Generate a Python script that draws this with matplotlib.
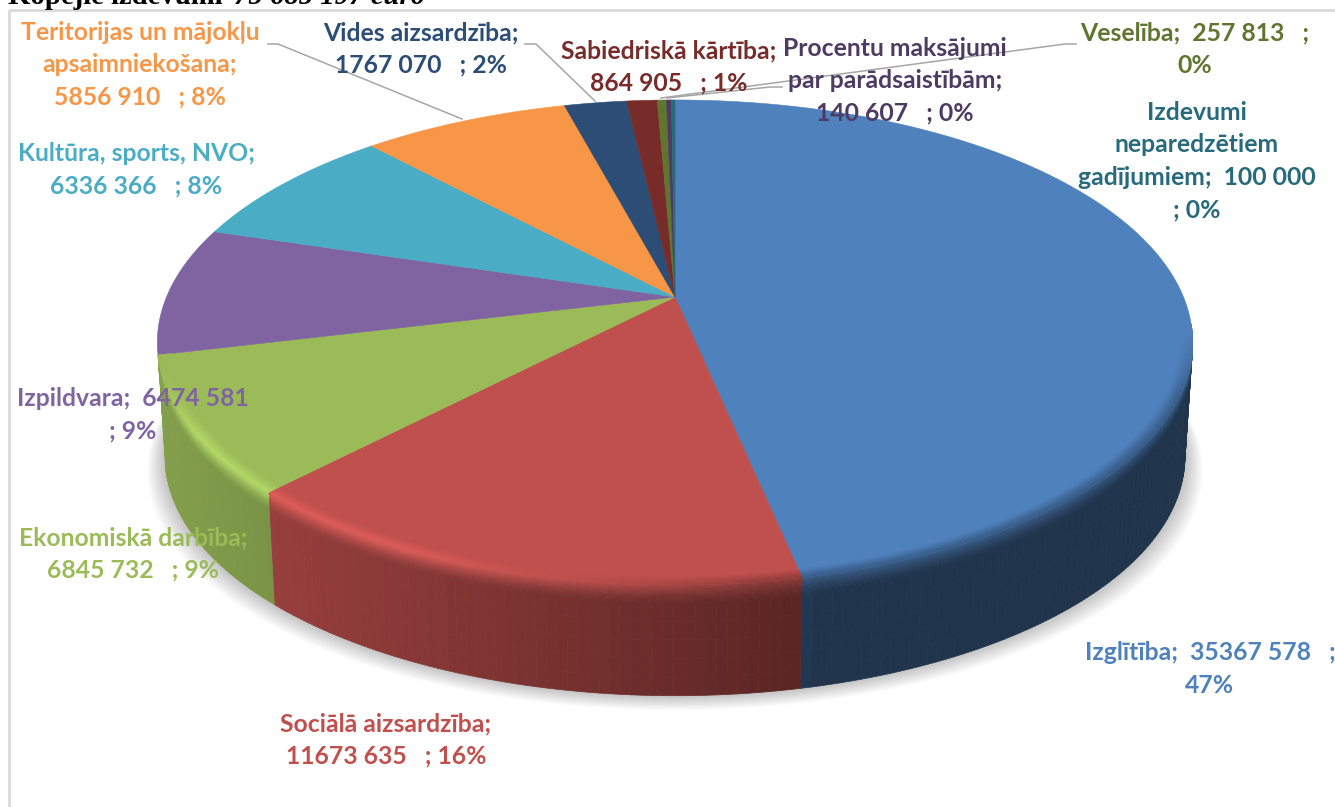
import numpy as np
import matplotlib
matplotlib.use("Agg")
import matplotlib.pyplot as plt
from matplotlib.collections import PolyCollection
from matplotlib.colors import to_rgb

# ---------- data ----------
categories = ["Izglītība", "Sociālā aizsardzība", "Ekonomiskā darbība", "Izpildvara",
              "Kultūra, sports, NVO", "Teritorijas un mājokļu\napsaimniekošana", "Vides aizsardzība",
              "Sabiedriskā kārtība", "Veselība", "Procentu maksājumi\npar parādsaistībām",
              "Izdevumi\nneparedzētiem\ngadījumiem"]
values = [35367578, 11673635, 6845732, 6474581, 6336366, 5856910, 1767070, 864905, 257813, 140607, 100000]
percents = [47, 16, 9, 9, 8, 8, 2, 1, 0, 0, 0]
colors = ["#4f81bd", "#c0504d", "#9bbb59", "#8064a2", "#4bacc6", "#f79646",
          "#2c4d75", "#772c2a", "#5f7530", "#4d3b62", "#276a7c"]
title_bold = "Kopējie izdevumi "
title_italic = "75 685 197 euro"

# ---------- layout ----------
label_seps = [(";  ", "   ;\n"), (";\n", "   ; "), (";\n", "   ; "), (";  ", "\n; "),
              (";\n", "   ; "), (";\n", "   ; "), (";\n", "   ; "), (";\n", "   ; "),
              (";  ", "   ;\n"), (";\n", "   ; "), (";  ", "\n; ")]
label_pos = [(1210, 669), (386, 740), (133, 554), (133, 415), (136, 170), (140, 65),
             (421, 49), (669, 67), (1195, 49), (895, 81), (1197, 161)]
leaders = [[(268, 44), (278, 44), (462, 119)],
           [(525, 44), (536, 44), (595, 101)],
           [(1076, 44), (1065, 44), (661, 98)],
           [(782, 87), (770, 87), (667, 98)]]
CX, AY, R, S, K = 675, 297, 508.5, 234.0, 0.1876
DEPTH, SHRINK = 115, 0.985
W, H = 1335, 807

plt.rcParams['font.family'] = ['Lato', 'Open Sans', 'DejaVu Sans']
fig = plt.figure(figsize=(W / 100, H / 100), dpi=100)
ax = fig.add_axes([0, 0, 1, 1])
ax.set_xlim(0, W)
ax.set_ylim(H, 0)
ax.axis('off')


def surf(theta, r=1.0, d=0.0):
    """Point of the pie; d=0 is the top face, d=1 the bottom edge."""
    u, v = r * np.sin(theta), r * np.cos(theta)
    w = 1 + K * v
    s = 1 + (SHRINK - 1) * d
    return np.column_stack([CX + R * u / w * s, AY - S * v / w * s + DEPTH * d])


def side_factor(x):
    return np.interp(x, [157, 280, 500, 800, 812, 1192], [.85, .78, .65, .47, .40, .40])


fractions = np.cumsum([0] + values) / sum(values)
edges = 2 * np.pi * fractions

# frame
ax.plot([9, 9], [H, 10], color="#d9d9d9", lw=2, zorder=1, solid_capstyle='butt')
ax.plot([9, W], [10, 10], color="#d9d9d9", lw=2, zorder=1, solid_capstyle='butt')

# soft shadow
th_all = np.linspace(0, 2 * np.pi, 361)
for s in np.linspace(18, 1, 12):
    p = surf(th_all, 1, 1)
    px = CX + (p[:, 0] - CX) * (1 + s / 520)
    py = p[:, 1] + s * 0.8
    ax.fill(px, py, color="#000000", alpha=0.018, lw=0, zorder=2)

side_polys, side_cols, top_polys, top_cols = [], [], [], []
D_BAND = np.r_[np.linspace(0, .16, 17), np.linspace(.16, 1, 6)[1:]]
R_BAND = np.linspace(.975, 1, 9)

for i, c in enumerate(colors):
    base = np.array(to_rgb(c))
    n = max(2, int(np.ceil(np.degrees(edges[i + 1] - edges[i]))) + 1)
    th = np.linspace(edges[i], edges[i + 1], n)
    arc = surf(th)
    ax.fill(np.r_[CX, arc[:, 0]], np.r_[AY, arc[:, 1]], color=c, lw=0.4, zorder=4)
    for a, b in zip(th[:-1], th[1:]):
        mid = (a + b) / 2
        limit = -0.12 if np.sin(mid) > 0 else -0.24
        if np.cos(mid) > limit:
            continue
        xm, ym = surf(np.array([mid]))[0]
        side = base * side_factor(xm)
        h = np.clip((760 - xm) / 360, 0, 1) * np.clip((ym - 345) / 90, 0, 1) * 0.85
        hi = np.minimum(1, base * 1.22)
        edge = h * hi + (1 - h) * (base + side) / 2
        g = np.clip((-0.15 - np.cos(mid)) / 0.25, 0, 1)
        top_edge = base + g * (edge - base)
        for d0, d1 in zip(D_BAND[:-1], D_BAND[1:]):
            q = np.vstack([surf(np.array([a, b]), 1, d0), surf(np.array([b, a]), 1, d1)])
            t = (d0 + d1) / 2
            col = side + (top_edge - side) * max(0, 1 - t / 0.16) ** 1.3
            side_polys.append(q)
            side_cols.append(col)
        for r0, r1 in zip(R_BAND[:-1], R_BAND[1:]):
            q = np.vstack([surf(np.array([a, b]), r0), surf(np.array([b, a]), r1)])
            p = ((r0 + r1) / 2 - R_BAND[0]) / (R_BAND[-1] - R_BAND[0])
            col = base + (top_edge - base) * p
            top_polys.append(q)
            top_cols.append(col)

ax.add_collection(PolyCollection(side_polys, facecolors=side_cols, edgecolors=side_cols, linewidths=0.5, zorder=3))
ax.add_collection(PolyCollection(top_polys, facecolors=top_cols, edgecolors=top_cols, linewidths=0.3, zorder=5))

# leader lines
for ln in leaders:
    xs, ys = zip(*ln)
    ax.plot(xs, ys, color="#a6a6a6", lw=1.1, zorder=6)

# data labels
for cat, v, pct, c, (s1, s2), (x, y) in zip(categories, values, percents, colors, label_seps, label_pos):
    txt = f"{cat}{s1}{v // 1000} {v % 1000:03d}{s2}{pct}%"
    ax.text(x, y, txt, color=c, fontsize=17.8, fontweight='bold', ha='center', va='center',
            multialignment='center', linespacing=1.49, zorder=7)

# title, cut by the top edge of the picture as in the reference
t1 = ax.text(8, 4, title_bold, family='Liberation Serif', fontweight='bold', fontsize=20.7,
             ha='left', va='baseline', color='black', zorder=8)
fig.canvas.draw()
bb = t1.get_window_extent()
ax.text(bb.x1 + 4, 4, title_italic, family='Liberation Serif', fontweight='bold', style='italic',
        fontsize=20.7, ha='left', va='baseline', color='black', zorder=8)

fig.savefig("out.png", dpi=100)
